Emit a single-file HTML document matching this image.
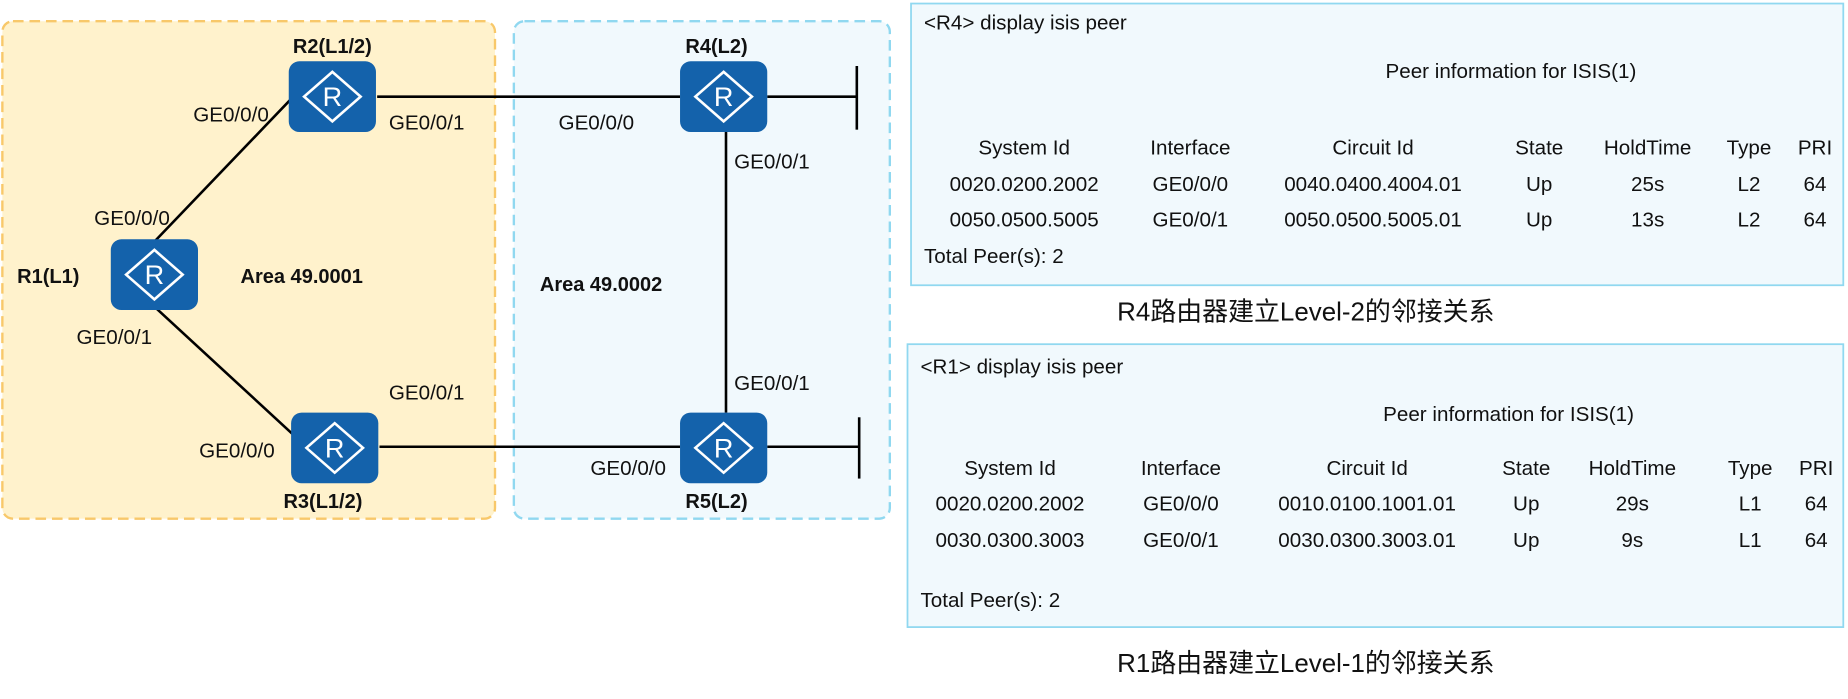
<!DOCTYPE html>
<html><head><meta charset="utf-8"><style>
html,body{margin:0;padding:0;background:#fff;}
svg{display:block;}
text{font-family:"Liberation Sans","Noto Sans CJK SC",sans-serif;fill:#111;}
.b{font-weight:bold;}
</style></head><body>
<svg width="1848" height="699" viewBox="0 0 1568 593" preserveAspectRatio="none" xmlns="http://www.w3.org/2000/svg">
<defs>
<g id="rt">
<rect x="-37" y="-30" width="74" height="60" rx="9" fill="#1462ab"/>
<polygon points="0,-21 24,0 0,21 -24,0" fill="none" stroke="#fff" stroke-width="2.2"/>
<text x="0" y="8" text-anchor="middle" font-size="23" style="fill:#fff">R</text>
</g>
</defs>
<rect x="2" y="18" width="418" height="422" rx="9" fill="#fff2cc" stroke="#f8c86a" stroke-width="2" stroke-dasharray="9,5"/>
<rect x="436" y="18" width="319" height="422" rx="9" fill="#f1f9fd" stroke="#90d8f0" stroke-width="2" stroke-dasharray="9,5"/>
<g stroke="#000" stroke-width="2.2" fill="none">
<line x1="320" y1="82" x2="577" y2="82"/>
<line x1="651" y1="82" x2="727" y2="82"/>
<line x1="727" y1="56" x2="727" y2="110"/>
<line x1="616" y1="111" x2="616" y2="350"/>
<line x1="131" y1="205" x2="246" y2="85"/>
<line x1="133" y1="262" x2="248" y2="368"/>
<line x1="322" y1="379" x2="577" y2="379"/>
<line x1="651" y1="379" x2="729" y2="379"/>
<line x1="729" y1="354" x2="729" y2="406"/>
</g>
<use href="#rt" x="282" y="82"/>
<use href="#rt" x="614" y="82"/>
<use href="#rt" x="131" y="233"/>
<use href="#rt" x="284" y="380"/>
<use href="#rt" x="614" y="380"/>
<g font-size="17">
<text x="282" y="45" text-anchor="middle" class="b">R2(L1/2)</text>
<text x="608" y="45" text-anchor="middle" class="b">R4(L2)</text>
<text x="41" y="240" text-anchor="middle" class="b">R1(L1)</text>
<text x="256" y="240" text-anchor="middle" class="b">Area 49.0001</text>
<text x="510" y="247" text-anchor="middle" class="b">Area 49.0002</text>
<text x="274" y="431" text-anchor="middle" class="b">R3(L1/2)</text>
<text x="608" y="431" text-anchor="middle" class="b">R5(L2)</text>
</g>
<g font-size="17.5">
<text x="196" y="103" text-anchor="middle">GE0/0/0</text>
<text x="362" y="110" text-anchor="middle">GE0/0/1</text>
<text x="506" y="110" text-anchor="middle">GE0/0/0</text>
<text x="655" y="143" text-anchor="middle">GE0/0/1</text>
<text x="112" y="191" text-anchor="middle">GE0/0/0</text>
<text x="97" y="292" text-anchor="middle">GE0/0/1</text>
<text x="362" y="339" text-anchor="middle">GE0/0/1</text>
<text x="655" y="331" text-anchor="middle">GE0/0/1</text>
<text x="201" y="388" text-anchor="middle">GE0/0/0</text>
<text x="533" y="403" text-anchor="middle">GE0/0/0</text>
</g>
<rect x="773" y="3" width="791" height="239" fill="#f1f9fd" stroke="#90d8f0" stroke-width="1.5"/>
<rect x="770" y="292" width="794" height="240" fill="#f1f9fd" stroke="#90d8f0" stroke-width="1.5"/>
<g font-size="17.5">
<text x="784" y="25">&lt;R4&gt; display isis peer</text>
<text x="1282" y="66" text-anchor="middle">Peer information for ISIS(1)</text>
<g text-anchor="middle">
<text x="869" y="131">System Id</text><text x="1010" y="131">Interface</text><text x="1165" y="131">Circuit Id</text><text x="1306" y="131">State</text><text x="1398" y="131">HoldTime</text><text x="1484" y="131">Type</text><text x="1540" y="131">PRI</text>
<text x="869" y="162">0020.0200.2002</text><text x="1010" y="162">GE0/0/0</text><text x="1165" y="162">0040.0400.4004.01</text><text x="1306" y="162">Up</text><text x="1398" y="162">25s</text><text x="1484" y="162">L2</text><text x="1540" y="162">64</text>
<text x="869" y="192">0050.0500.5005</text><text x="1010" y="192">GE0/0/1</text><text x="1165" y="192">0050.0500.5005.01</text><text x="1306" y="192">Up</text><text x="1398" y="192">13s</text><text x="1484" y="192">L2</text><text x="1540" y="192">64</text>
</g>
<text x="784" y="223">Total Peer(s): 2</text>
<text x="781" y="317">&lt;R1&gt; display isis peer</text>
<text x="1280" y="357" text-anchor="middle">Peer information for ISIS(1)</text>
<g text-anchor="middle">
<text x="857" y="403">System Id</text><text x="1002" y="403">Interface</text><text x="1160" y="403">Circuit Id</text><text x="1295" y="403">State</text><text x="1385" y="403">HoldTime</text><text x="1485" y="403">Type</text><text x="1541" y="403">PRI</text>
<text x="857" y="433">0020.0200.2002</text><text x="1002" y="433">GE0/0/0</text><text x="1160" y="433">0010.0100.1001.01</text><text x="1295" y="433">Up</text><text x="1385" y="433">29s</text><text x="1485" y="433">L1</text><text x="1541" y="433">64</text>
<text x="857" y="464">0030.0300.3003</text><text x="1002" y="464">GE0/0/1</text><text x="1160" y="464">0030.0300.3003.01</text><text x="1295" y="464">Up</text><text x="1385" y="464">9s</text><text x="1485" y="464">L1</text><text x="1541" y="464">64</text>
</g>
<text x="781" y="515">Total Peer(s): 2</text>
</g>
<text x="1108" y="272" text-anchor="middle" font-size="22">R4路由器建立Level-2的邻接关系</text>
<text x="1108" y="570" text-anchor="middle" font-size="22">R1路由器建立Level-1的邻接关系</text>
</svg>
</body></html>
